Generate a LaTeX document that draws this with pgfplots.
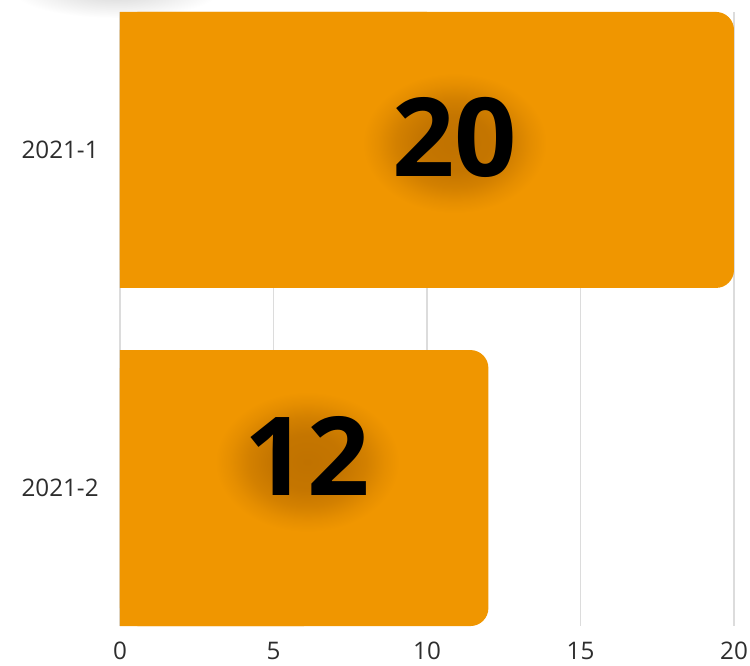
\documentclass[border=0pt]{standalone}
\usepackage{fontspec}
\setmainfont{Open Sans}
\usepackage{pgfplots}
\pgfplotsset{compat=1.18}
\usepackage{pgfplotstable}
\definecolor{barorange}{RGB}{240,150,0}
\definecolor{shadoworange}{RGB}{192,114,0}
\definecolor{gridgray}{RGB}{220,220,220}
\definecolor{txt}{RGB}{45,45,45}
\definecolor{topshadow}{RGB}{212,212,212}
\pgfdeclareradialshading{glow}{\pgfpoint{0bp}{0bp}}{%
  color(0bp)=(shadoworange); color(10bp)=(shadoworange!90!barorange);
  color(16bp)=(shadoworange!60!barorange); color(21bp)=(shadoworange!22!barorange);
  color(25bp)=(barorange); color(50bp)=(barorange)}

\pgfplotstableread{
pos v
0 20
1 12
}\data

\begin{document}
\begin{tikzpicture}
\begin{scope}
\clip (-60pt,-19.5pt) rectangle (315pt,313pt);
\shade[inner color=topshadow, outer color=white] (-2pt,318pt) ellipse (52pt and 14pt);
\end{scope}
\begin{axis}[
  at={(0,0)}, anchor=south west,
  scale only axis, width=307pt, height=307pt,
  xmin=0, xmax=20, ymin=-0.408, ymax=1.408, y dir=reverse,
  axis line style={draw=none},
  major tick length=0pt,
  tick style={draw=none},
  xtick={0,5,10,15,20},
  ytick={0,1}, yticklabels={2021-1,2021-2},
  xmajorgrids, grid style={gridgray, line width=0.6pt},
  /pgf/number format/assume math mode=true,
  tick label style={font=\fontsize{12.1}{14}\selectfont, text=txt},
  yticklabel style={inner sep=0pt, xshift=-10.5pt},
  xticklabel style={inner sep=0pt, yshift=-8pt},
  clip=false,
]
\addplot[xbar, bar shift=0pt, bar width=138pt, fill=barorange, draw=none, rounded corners=9pt]
  table[x=v, y=pos]{\data};
\addplot[xbar, bar shift=0pt, bar width=138pt, fill=barorange, draw=none]
  table[x expr=\thisrow{v}/2, y=pos]{\data};
\coordinate (L1) at (axis cs:10.9,-0.038);
\coordinate (L2) at (axis cs:6.1,0.905);
\end{axis}
\foreach \p/\t in {L1/20, L2/12}{
  \shade[shading=glow] ([yshift=-3pt]\p) ellipse (46pt and 35pt);
  \node[font=\fontsize{54.6}{60}\selectfont\bfseries, text=black, inner sep=0pt] at (\p) {\t};
}
\pgfresetboundingbox
\path[use as bounding box] (-60pt,-19.5pt) rectangle (315pt,313pt);
\end{tikzpicture}
\end{document}
